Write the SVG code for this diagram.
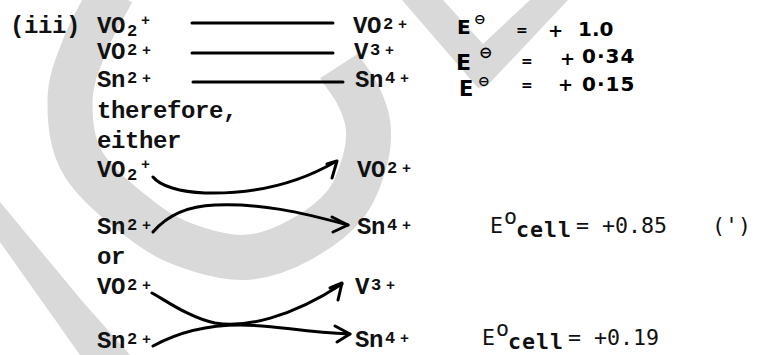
<svg xmlns="http://www.w3.org/2000/svg" width="758" height="355" viewBox="0 0 758 355">
<style>
.wm{fill:#d9d9d9;stroke:none}
.wmr{fill:none;stroke:#d9d9d9;stroke-width:45}
.t{font-family:"Liberation Mono","Courier New",monospace;font-weight:bold;font-size:24px;letter-spacing:-0.4px;fill:#111}
.s{font-family:"Liberation Mono","Courier New",monospace;font-weight:bold;font-size:17px;fill:#111}
.p{font-family:"Liberation Mono","Courier New",monospace;font-weight:bold;font-size:15px;fill:#111}
.h{font-family:"DejaVu Sans",sans-serif;font-weight:bold;fill:#000}
.c{font-family:"DejaVu Sans Mono",monospace;font-size:21.6px;fill:#111}
.ln{fill:none;stroke:#000;stroke-width:3;stroke-linecap:round;stroke-linejoin:round}
</style>
<g id="watermark">
<path class="wmr" d="M112,-8 C103,9.7 92,27 85,45 C78,63 70.2,80 70,100 C69.8,120 71,144.2 84,165 C97,185.8 128.7,210.8 148,225 C167.3,239.2 183,244.7 200,250 C217,255.3 233.3,258.7 250,257 C266.7,255.3 284.2,248.7 300,240 C315.8,231.3 334.2,218.3 345,205 C355.8,191.7 361.2,173.3 365,160 C368.8,146.7 369.2,135.8 368,125 C366.8,114.2 362.8,104.8 358,95 C353.2,85.2 345.3,75.7 339,66"/>
<polygon class="wm" points="0,202 83,302 130,355 80,355 0,242"/>
<polygon class="wm" points="402,0 443,0 483,44 530,0 568,0 487,86 478,88"/>
</g>
<g id="label-iii"><text class="t" x="10" y="33">(iii)</text></g>
<g id="r1-left"><text class="t" x="97" y="33">VO</text><text class="s" x="127" y="36">2</text><text class="p" x="141" y="25">+</text></g>
<g id="r1-right"><text class="t" x="353" y="33">VO</text><text class="s" x="383" y="29">2</text><text class="p" x="398" y="29">+</text></g>
<g id="r2-left"><text class="t" x="97" y="59">VO</text><text class="s" x="127" y="55">2</text><text class="p" x="142" y="55">+</text></g>
<g id="r2-right"><text class="t" x="354" y="59">V</text><text class="s" x="370" y="55">3</text><text class="p" x="385" y="55">+</text></g>
<g id="r3-left"><text class="t" x="97" y="87">Sn</text><text class="s" x="127" y="83">2</text><text class="p" x="142" y="83">+</text></g>
<g id="r3-right"><text class="t" x="355" y="87">Sn</text><text class="s" x="385" y="83">4</text><text class="p" x="400" y="83">+</text></g>
<g id="therefore"><text class="t" x="97" y="118">therefore,</text></g>
<g id="either"><text class="t" x="97" y="148">either</text></g>
<g id="r6-left"><text class="t" x="97" y="177">VO</text><text class="s" x="127" y="180">2</text><text class="p" x="141" y="169">+</text></g>
<g id="r6-right"><text class="t" x="357" y="177">VO</text><text class="s" x="387" y="173">2</text><text class="p" x="402" y="173">+</text></g>
<g id="r7-left"><text class="t" x="97" y="234">Sn</text><text class="s" x="127" y="230">2</text><text class="p" x="142" y="230">+</text></g>
<g id="r7-right"><text class="t" x="357" y="234">Sn</text><text class="s" x="387" y="230">4</text><text class="p" x="402" y="230">+</text></g>
<g id="or"><text class="t" x="97" y="264">or</text></g>
<g id="r9-left"><text class="t" x="97" y="294">VO</text><text class="s" x="127" y="290">2</text><text class="p" x="142" y="290">+</text></g>
<g id="r9-right"><text class="t" x="355" y="294">V</text><text class="s" x="371" y="290">3</text><text class="p" x="386" y="290">+</text></g>
<g id="r10-left"><text class="t" x="97" y="348">Sn</text><text class="s" x="127" y="344">2</text><text class="p" x="142" y="344">+</text></g>
<g id="r10-right"><text class="t" x="355" y="347">Sn</text><text class="s" x="385" y="343">4</text><text class="p" x="400" y="343">+</text></g>
<g id="e1">
<text class="h" x="457" y="34" font-size="20">E</text><text class="h" x="474" y="24" font-size="14">⊖</text>
<text class="h" x="516" y="35" font-size="14">=</text><text class="h" x="548" y="37" font-size="18">+</text>
<text class="h" x="578" y="36" font-size="20">1.0</text>
</g>
<g id="e2">
<text class="h" x="456" y="70" font-size="22">E</text><text class="h" x="479" y="58" font-size="16">⊖</text>
<text class="h" x="521" y="66" font-size="14">=</text><text class="h" x="560" y="65" font-size="18">+</text>
<text class="h" x="582" y="63" font-size="20" letter-spacing="1">0·34</text>
</g>
<g id="e3">
<text class="h" x="459" y="96" font-size="21">E</text><text class="h" x="478" y="86" font-size="14">⊖</text>
<text class="h" x="521" y="90" font-size="14">=</text><text class="h" x="558" y="91" font-size="18">+</text>
<text class="h" x="582" y="91" font-size="20" letter-spacing="1">0·15</text>
</g>
<g id="ecell1">
<text class="c" x="490" y="233" font-size="22">E</text><text class="c" x="504" y="224" font-size="11">o</text>
<text class="c" x="516" y="237" font-size="13" font-weight="bold" letter-spacing="1">cell</text>
<text class="c" x="576" y="233">= +0.85</text>
<text class="c" x="712" y="233" font-size="18">(')</text>
</g>
<g id="ecell2">
<text class="c" x="482" y="345" font-size="22">E</text><text class="c" x="496" y="336" font-size="11">o</text>
<text class="c" x="508" y="349" font-size="13" font-weight="bold" letter-spacing="1">cell</text>
<text class="c" x="568" y="345">= +0.19</text>
</g>
<g id="connectors">
<path class="ln" d="M192,23 L333,23"/>
<path class="ln" d="M192,53 L333,53" stroke-width="3.5"/>
<path class="ln" d="M193,82 L343,82" stroke-width="2"/>
<path class="ln" d="M153,177 C160,186 180,192 205,193 C245,194 290,188 335,162"/>
<path class="ln" d="M327,164 L337,161 L332,178"/>
<path class="ln" d="M153,232 C165,218 185,206 215,205 C260,203 300,212 348,225"/>
<path class="ln" d="M332,217 L348,225 L333,232"/>
<path class="ln" d="M152,293 C165,300 190,318 215,323 C245,328 290,318 342,284"/>
<path class="ln" d="M330,288 L342,283 L338,300"/>
<path class="ln" d="M153,346 C175,334 205,325 240,325 C275,325 300,332 350,334"/>
<path class="ln" d="M335,326 L350,334 L337,342"/>
</g>
</svg>
